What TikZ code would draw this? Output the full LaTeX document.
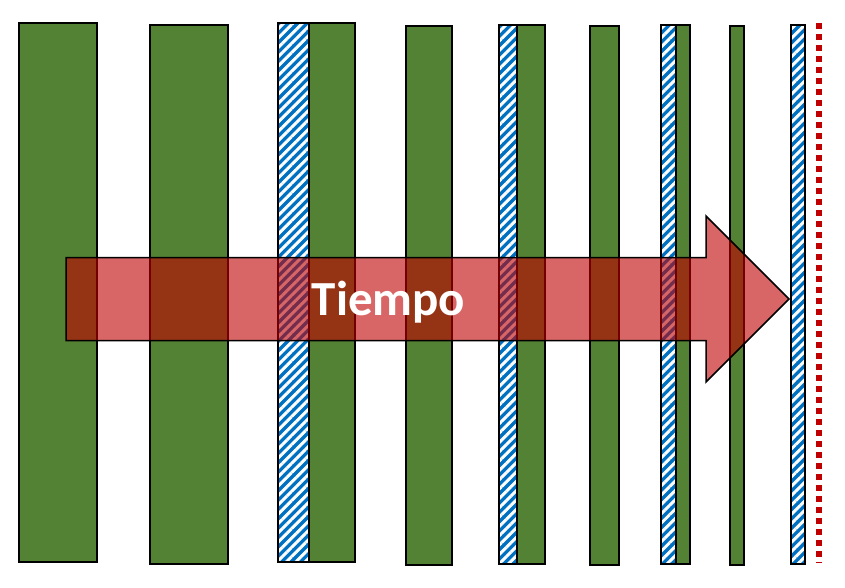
\documentclass[tikz,border=0pt]{standalone}
\usepackage{fontspec}
\setmainfont{Carlito}
\usetikzlibrary{patterns.meta}
\definecolor{bargreen}{RGB}{84,130,53}
\definecolor{hatchblue}{RGB}{0,112,192}
\definecolor{arrowred}{RGB}{192,0,0}
\tikzset{
  greenbar/.style={fill=bargreen, draw=black, line width=2pt},
  hatchbar/.style={fill=hatchblue, postaction={pattern={Lines[angle=45,distance=6.6pt,line width=3pt]}, pattern color=white}},
  hatchborder/.style={draw=black, line width=2pt},
  timearrow/.style={fill=arrowred, fill opacity=0.6, draw=black, line width=1.5pt, line join=miter},
}
\begin{document}
\begin{tikzpicture}[x=1pt,y=-1pt]
\useasboundingbox (0,0) rectangle (845,587);
% bars
\draw[greenbar] (19,23) rectangle (97,562);
\draw[greenbar] (150,25) rectangle (228,564);
\fill[hatchbar] (278,23) rectangle (309,562);
\draw[hatchborder] (278,23) rectangle (309,562);
\draw[greenbar] (309,23) rectangle (355,562);
\draw[greenbar] (406,26) rectangle (452,565);
\fill[hatchbar] (499,25) rectangle (517,564);
\draw[hatchborder] (499,25) rectangle (517,564);
\draw[greenbar] (517,25) rectangle (545,564);
\draw[greenbar] (590,26) rectangle (619,565);
\fill[hatchbar] (661,25) rectangle (676,564);
\draw[hatchborder] (661,25) rectangle (676,564);
\draw[greenbar] (676,25) rectangle (690,564);
\draw[greenbar] (730,26) rectangle (744,565);
\fill[hatchbar] (791,25) rectangle (805,564);
\draw[hatchborder] (791,25) rectangle (805,564);
% red dotted line
\draw[arrowred, line width=5.5pt, dash pattern=on 5.5pt off 5.5pt] (819,23) -- (819,563);
% arrow
\draw[timearrow] (66,257.5) -- (706,257.5) -- (706,216) -- (789,299) -- (706,382) -- (706,340.5) -- (66,340.5) -- cycle;
\node[text=white, font=\bfseries\fontsize{49}{55}\selectfont, anchor=base] (tiempo) at (388.5,315) {Tiempo};
\end{tikzpicture}
\end{document}
